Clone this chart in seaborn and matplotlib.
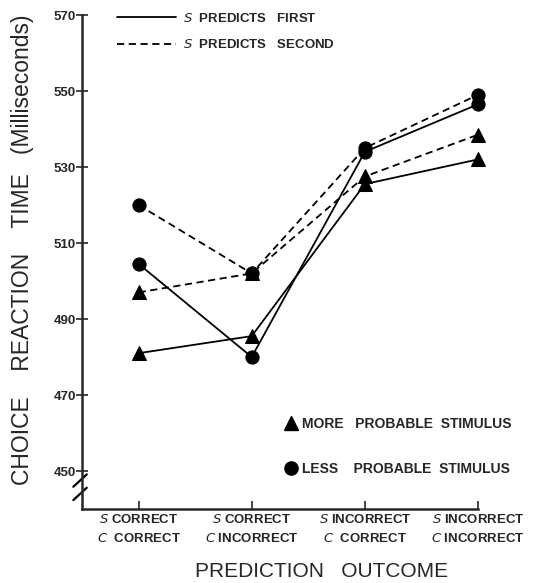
import pandas as pd
import matplotlib.pyplot as plt
import seaborn as sns
from matplotlib.lines import Line2D

# prediction outcome categories (S = subject, C = computer)
outcomes = ["$\\it{S}$ CORRECT\n$\\it{C}$  CORRECT",
            "$\\it{S}$ CORRECT\n$\\it{C}$ INCORRECT",
            "$\\it{S}$ INCORRECT\n$\\it{C}$  CORRECT",
            "$\\it{S}$ INCORRECT\n$\\it{C}$ INCORRECT"]
positions = [0, 1, 2, 3]

# reaction times (ms)
first_more = [481, 485.5, 525.5, 532]
first_less = [504.5, 480, 534, 546.5]
second_more = [497, 502, 527.5, 538.5]
second_less = [520, 502, 535, 549]

y_ticks = [450, 470, 490, 510, 530, 550, 570]

series = [
    ("first", "more", first_more),
    ("first", "less", first_less),
    ("second", "more", second_more),
    ("second", "less", second_less),
]
rows = []
for pred, stim, vals in series:
    for p, v in zip(positions, vals):
        rows.append({"pos": p, "rt": v, "predicts": pred, "stimulus": stim})
df = pd.DataFrame(rows)

sns.set_style("ticks")
plt.rcParams['font.family'] = ['Liberation Sans', 'DejaVu Sans']

fig = plt.figure(figsize=(5.36, 5.83), dpi=100)
ax = fig.add_axes([82 / 536, 74 / 583, 396 / 536, 494 / 583])

line_style = {"first": "-", "second": (0, (4, 2.5))}
marker_style = {"more": "^", "less": "o"}

for (pred, stim), sub in df.groupby(["predicts", "stimulus"]):
    sns.lineplot(data=sub, x="pos", y="rt", ax=ax, color="black",
                 linestyle=line_style[pred], marker=marker_style[stim],
                 markersize=9.5 if stim == "less" else 10,
                 markeredgecolor="black", linewidth=1.3, clip_on=False)

ax.set_xlim(-0.5, 3.0)
ax.set_ylim(440, 570)
ax.set_xticks(positions)
ax.set_xticklabels(outcomes, fontsize=9.5, fontweight="bold", linespacing=1.6)
ax.set_yticks(y_ticks)
ax.set_yticklabels([str(t) for t in y_ticks], fontsize=9.5, fontweight="bold")
ax.tick_params(axis="x", direction="in", length=6, width=1.2, pad=3)
ax.tick_params(axis="y", direction="inout", length=9, width=1.2, pad=0)
sns.despine(ax=ax)
ax.spines["left"].set_linewidth(1.8)
ax.spines["bottom"].set_linewidth(1.8)

ax.set_xlabel("PREDICTION   OUTCOME", fontsize=15)
ax.xaxis.set_label_coords(0.606, -0.108)
ax.set_ylabel("CHOICE    REACTION    TIME   (Milliseconds)", fontsize=16.5)
ax.yaxis.set_label_coords(-0.122, 0.524)

# axis break marks
for y0 in (0.018, 0.045):
    ax.plot([-0.022, 0.012], [y0, y0 + 0.025], transform=ax.transAxes,
            color="black", linewidth=1.6, clip_on=False)

# legends
h1 = [Line2D([], [], color="black", linewidth=1.3, linestyle="-"),
      Line2D([], [], color="black", linewidth=1.3, linestyle=(0, (4, 2.5)))]
fig.legend(h1, ["$\\it{S}$  PREDICTS   FIRST", "$\\it{S}$  PREDICTS   SECOND"],
           loc="upper left", bbox_to_anchor=(117 / 536, 1 - 12 / 583),
           frameon=False, handlelength=4.5, handletextpad=0.5,
           labelspacing=1.0, borderpad=0, borderaxespad=0,
           prop={"size": 9.5, "weight": "bold"})

h2 = [Line2D([], [], color="black", linestyle="none", marker="^", markersize=10),
      Line2D([], [], color="black", linestyle="none", marker="o", markersize=9.5)]
fig.legend(h2, ["MORE   PROBABLE  STIMULUS", "LESS    PROBABLE  STIMULUS"],
           loc="upper left", bbox_to_anchor=(284 / 536, 1 - 417 / 583),
           frameon=False, handlelength=1.0, handletextpad=0.3,
           labelspacing=2.2, borderpad=0, borderaxespad=0,
           prop={"size": 10, "weight": "bold"})

fig.savefig("out.png", dpi=100)
